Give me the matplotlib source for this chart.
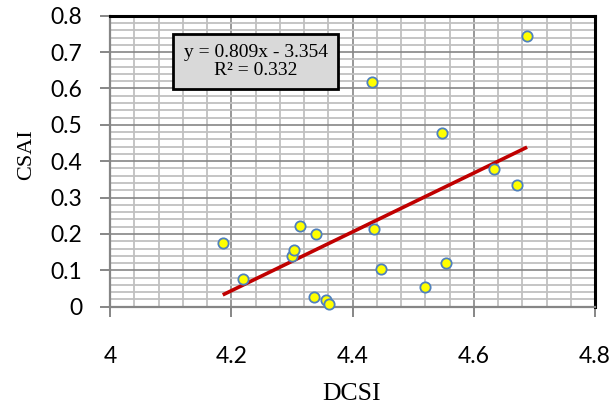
import matplotlib
matplotlib.use("Agg")
import matplotlib.pyplot as plt
from matplotlib.patches import Rectangle
from matplotlib.ticker import MultipleLocator
import numpy as np

# Data
dcsi = [4.186, 4.219, 4.301, 4.303, 4.313, 4.340, 4.336, 4.357, 4.361,
        4.436, 4.447, 4.519, 4.554, 4.633, 4.672, 4.432, 4.547, 4.688]
csai = [0.176, 0.076, 0.140, 0.155, 0.223, 0.199, 0.027, 0.019, 0.007,
        0.213, 0.105, 0.055, 0.121, 0.378, 0.334, 0.618, 0.478, 0.744]
slope = 0.809
intercept = -3.354
eq_text = "y = 0.809x - 3.354\nR² = 0.332"
x_label = "DCSI"
y_label = "CSAI"

W, H = 611, 409
fig = plt.figure(figsize=(W / 100, H / 100), dpi=100)
ax = fig.add_axes([110 / W, 1 - 306.7 / H, (595 - 110) / W, (306.7 - 15.7) / H])

ax.set_xlim(4, 4.8)
ax.set_ylim(0, 0.8)
ax.xaxis.set_major_locator(MultipleLocator(0.2))
ax.xaxis.set_minor_locator(MultipleLocator(0.04))
ax.yaxis.set_major_locator(MultipleLocator(0.1))
ax.yaxis.set_minor_locator(MultipleLocator(0.02))

ax.grid(which="minor", color="#c0c0c0", linewidth=1.3, zorder=0)
ax.grid(which="major", color="#868686", linewidth=1.2, zorder=0)
ax.set_axisbelow(True)

for s in ["top", "right"]:
    ax.spines[s].set_color("black")
    ax.spines[s].set_linewidth(2.2)
for s in ["left", "bottom"]:
    ax.spines[s].set_color("#868686")
    ax.spines[s].set_linewidth(1.6)

ax.tick_params(which="major", direction="out", length=7, width=1.4, color="#868686",
               labelsize=16.5)
ax.tick_params(which="minor", length=0)
ax.tick_params(axis="y", pad=13)
ax.tick_params(axis="x", pad=21)
for lab in ax.get_xticklabels() + ax.get_yticklabels():
    lab.set_family(["Lato", "DejaVu Sans"])
ax.xaxis.set_major_formatter(plt.FuncFormatter(lambda v, p: f"{v:g}"))
ax.yaxis.set_major_formatter(plt.FuncFormatter(lambda v, p: f"{v:g}"))

# Trend line
xs = np.array([min(dcsi), max(dcsi)])
ax.plot(xs, slope * xs + intercept, color="#c00000", linewidth=2.6, zorder=3,
        solid_capstyle="butt")

ax.scatter(dcsi, csai, s=55, facecolor="#ffff00", edgecolor="#4f81bd",
           linewidth=1.3, zorder=4, clip_on=False)

# Equation box
ax.add_patch(Rectangle((4.1034, 0.598), 0.2732, 0.151, facecolor="#d9d9d9",
                       edgecolor="black", linewidth=2.0, zorder=5))
ax.text(4.24, 0.674, eq_text, ha="center", va="center", fontsize=14,
        family=["Liberation Serif"], zorder=6, linespacing=1.05)

fig.text(352 / W, 1 - 394 / H, x_label, ha="center", va="center", fontsize=18.5,
         family=["Liberation Serif"])
fig.text(27 / W, 1 - 155 / H, y_label, ha="center", va="center", fontsize=16,
         family=["Liberation Serif"], rotation=90)

fig.savefig("out.png", dpi=100)
